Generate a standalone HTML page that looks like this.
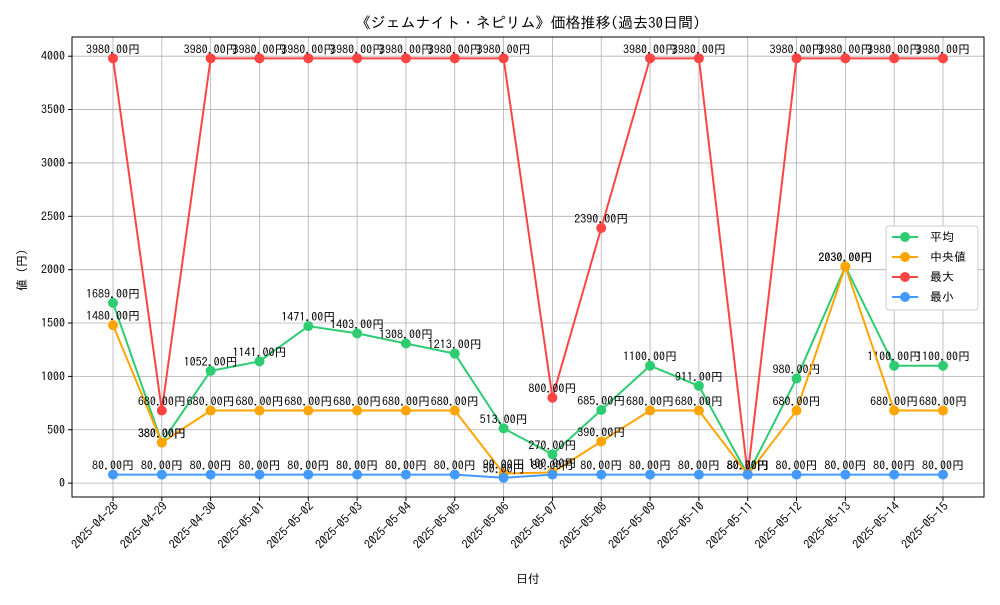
<!DOCTYPE html>
<html><head><meta charset="utf-8"><style>
body{margin:0;background:#fff;}
svg text{font-family:"IPAGothic","Noto Sans CJK JP",sans-serif;}
</style></head><body>
<svg id="c" width="1000" height="600" xmlns="http://www.w3.org/2000/svg"></svg>
<script>
const dates=["2025-04-28","2025-04-29","2025-04-30","2025-05-01","2025-05-02","2025-05-03","2025-05-04","2025-05-05","2025-05-06","2025-05-07","2025-05-08","2025-05-09","2025-05-10","2025-05-11","2025-05-12","2025-05-13","2025-05-14","2025-05-15"];
const avgVals=[1689,380,1052,1141,1471,1403,1308,1213,513,270,685,1100,911,80,980,2030,1100,1100];
const medVals=[1480,380,680,680,680,680,680,680,90,100,390,680,680,80,680,2030,680,680];
const maxVals=[3980,680,3980,3980,3980,3980,3980,3980,3980,800,2390,3980,3980,80,3980,3980,3980,3980];
const minVals=[80,80,80,80,80,80,80,80,50,80,80,80,80,80,80,80,80,80];
const yTicks=[0,500,1000,1500,2000,2500,3000,3500,4000];
const seriesNames=["平均","中央値","最大","最小"];
const svg=document.getElementById('c');const NS="http://www.w3.org/2000/svg";
const L=72,R=984,T=37,B=497,y0=-130,y1=4180;
const X=i=>113+i*(943-113)/(dates.length-1);
const Y=v=>B-(v-y0)/(y1-y0)*(B-T);
function mk(t,a,p){const e=document.createElementNS(NS,t);for(const k in a)e.setAttribute(k,a[k]);(p||svg).appendChild(e);return e;}
// grid
dates.forEach((d,i)=>{const g=mk('line',{x1:X(i),x2:X(i),y1:T,y2:B,stroke:'#b0b0b0','stroke-width':0.8});

mk('line',{x1:X(i),x2:X(i),y1:B,y2:B+4,stroke:'#000'});
const t=mk('text',{x:X(i)+6,y:B+10,'font-size':12,'text-anchor':'end',transform:`rotate(-45 ${X(i)+6} ${B+10})`});t.textContent=d;
});
yTicks.forEach(v=>{const g=mk('line',{x1:L,x2:R,y1:Y(v),y2:Y(v),stroke:'#b0b0b0','stroke-width':0.8});

mk('line',{x1:L-4,x2:L,y1:Y(v),y2:Y(v),stroke:'#000'});
const t=mk('text',{x:L-7,y:Y(v)+4,'font-size':12,'text-anchor':'end'});t.textContent=v;
});
const f=mk('rect',{x:L,y:T,width:R-L,height:B-T,fill:'none',stroke:'#000','stroke-width':1});

const series=[[avgVals,'#2ecc71','avg'],[medVals,'#ffa500','median'],[maxVals,'#ff4444','max'],[minVals,'#4499ff','min']];
series.forEach(([vals,col,nm])=>{
const g=mk('g',{});
const p=mk('polyline',{points:vals.map((v,i)=>X(i)+','+Y(v)).join(' '),fill:'none',stroke:col,'stroke-width':2},g);

vals.forEach((v,i)=>{const c=mk('circle',{cx:X(i),cy:Y(v),r:5,fill:col},g);

const t=mk('text',{x:X(i),y:Y(v)-5,'font-size':12,'text-anchor':'middle'},g);t.textContent=v.toFixed(2)+'円';
});
});
let t=mk('text',{x:528,y:28,'font-size':15,'text-anchor':'middle'});t.textContent='《ジェムナイト・ネピリム》価格推移(過去30日間)';

t=mk('text',{x:528,y:583,'font-size':12,'text-anchor':'middle'});t.textContent='日付';

t=mk('text',{x:26,y:270,'font-size':12,'text-anchor':'middle',transform:'rotate(-90 26 270)'});t.textContent='値 (円)';

const lg=mk('g',{});
mk('rect',{x:886,y:226,width:92,height:84,fill:'#fff',stroke:'#ccc',rx:3},lg);
series.forEach(([v,col,nm],k)=>{const yy=237+k*20;
const e=mk('g',{},lg);
mk('line',{x1:892,x2:918,y1:yy,y2:yy,stroke:col,'stroke-width':2},e);
mk('circle',{cx:905,cy:yy,r:5,fill:col},e);
const tt=mk('text',{x:930,y:yy+4,'font-size':12},e);tt.textContent=seriesNames[k];});
</script>
</body></html>
